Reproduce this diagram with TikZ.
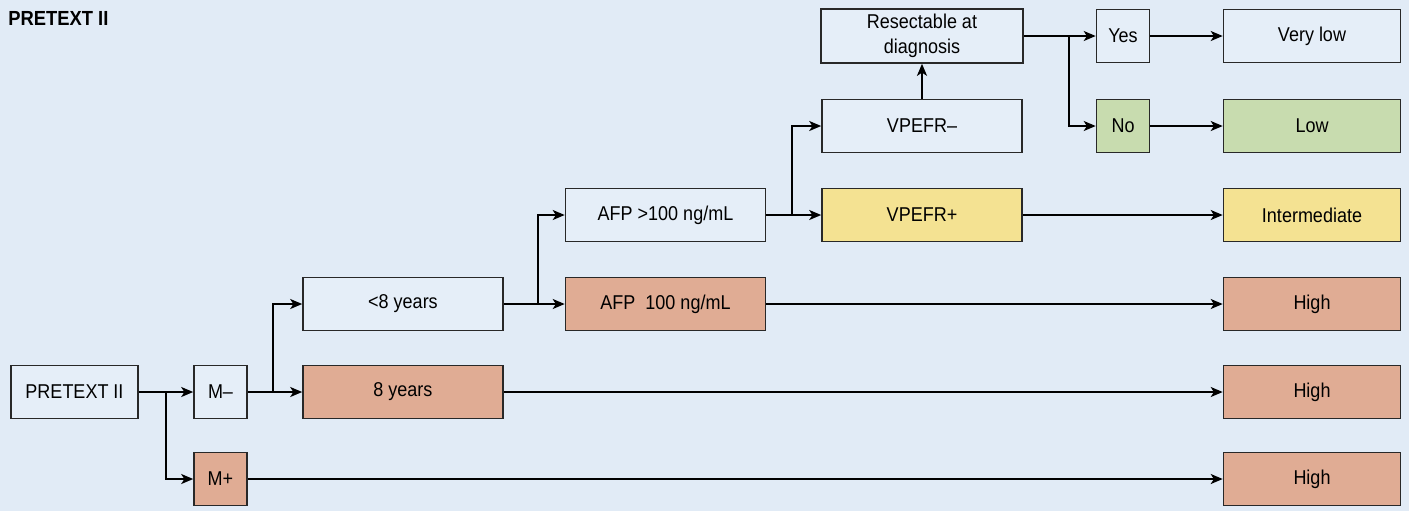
\documentclass[tikz,border=0pt]{standalone}
\usepackage{fontspec}
\setmainfont{Liberation Sans}[FakeStretch=0.9]
\usepackage{xcolor}
\usetikzlibrary{arrows}
\usetikzlibrary{arrows.meta,calc}
\definecolor{bgblue}{RGB}{225,235,246}
\definecolor{boxblue}{RGB}{229,238,248}
\definecolor{salmon}{RGB}{224,172,148}
\definecolor{sand}{RGB}{244,226,146}
\definecolor{sage}{RGB}{200,220,175}
\definecolor{edge}{RGB}{40,40,40}

\begin{document}
\begin{tikzpicture}[line cap=butt,line join=miter,x=0.5pt,y=-0.5pt,
    >={Stealth[length=6pt,width=5pt,inset=1.6pt]},
    box/.style={draw=edge,line width=0.8pt,fill=boxblue,inner sep=0pt,
        minimum height=26.5pt,font=\fontsize{10}{12.5}\selectfont,align=center},
    small/.style={box,minimum width=26.5pt},
    wide/.style={box,minimum width=100pt},
    tail/.style={box,minimum width=88.5pt},
    high/.style={fill=salmon},
    mid/.style={fill=sand},
    low/.style={fill=sage},
    link/.style={line width=1pt,draw=black}]
                \fill [bgblue] (0,0) rectangle (1409,511);
                \useasboundingbox (0,0) rectangle (1409,511);
                \node [anchor=north west,inner sep=0pt,font=\fontsize{10.2}{12}\selectfont\bfseries] (title) at (8,11) {PRETEXT II};
                % first column
                \node [box,minimum width=63.5pt] (pre) at (74.5,392) {PRETEXT II};
                \node [small] (mminus) at (220.5,392) {M--};
                \node [small,high] (mplus) at (220.5,479) {M+};
                % age
                \node [wide] (lt8) at (403,304) {<8 years};
                \node [wide,high] (ge8) at (403,392) {8 years};
                % AFP
                \node [wide] (afphi) at (665.5,215) {AFP >100 ng/mL};
                \node [wide,high] (afplo) at (665.5,304) {AFP\ \ 100 ng/mL};
                % VPEFR
                \node [wide] (vneg) at (922,126) {VPEFR--};
                \node [wide,mid] (vpos) at (922,215) {VPEFR+};
                \node [box,minimum width=101pt,minimum height=27pt] (resect) at (922,36) {Resectable at\\diagnosis};
                \node [small] (yes) at (1123,36) {Yes};
                \node [small,low] (no) at (1123,126) {No};
                % risk groups
                \node [tail] (verylow) at (1312,36) {Very low};
                \node [tail,low] (lowrisk) at (1312,126) {Low};
                \node [tail,mid] (inter) at (1312,215) {Intermediate};
                \node [tail,high] (highA) at (1312,304) {High};
                \node [tail,high] (highB) at (1312,392) {High};
                \node [tail,high] (highC) at (1312,479) {High};
                % branch points
                \coordinate (splitM) at (166,392);
                \coordinate (splitAge) at (273,392);
                \coordinate (splitAFP) at (538,304);
                \coordinate (splitV) at (792,215);
                \coordinate (splitR) at (1069,36);
                % connectors
                \draw [link,->] (pre) -- (mminus);
                \draw [link,->] (splitM) |- (mplus);
                \draw [link,->] (mminus) -- (ge8);
                \draw [link,->] (splitAge) |- (lt8);
                \draw [link,->] (lt8) -- (afplo);
                \draw [link,->] (splitAFP) |- (afphi);
                \draw [link,->] (afphi) -- (vpos);
                \draw [link,->] (splitV) |- (vneg);
                \draw [link,->] (vneg) -- (resect);
                \draw [link,->] (resect) -- (yes);
                \draw [link,->] (splitR) |- (no);
                \draw [link,->] (yes) -- (verylow);
                \draw [link,->] (no) -- (lowrisk);
                \draw [link,->] (vpos) -- (inter);
                \draw [link,->] (afplo) -- (highA);
                \draw [link,->] (ge8) -- (highB);
                \draw [link,->] (mplus) -- (highC);
\end{tikzpicture}
\end{document}
